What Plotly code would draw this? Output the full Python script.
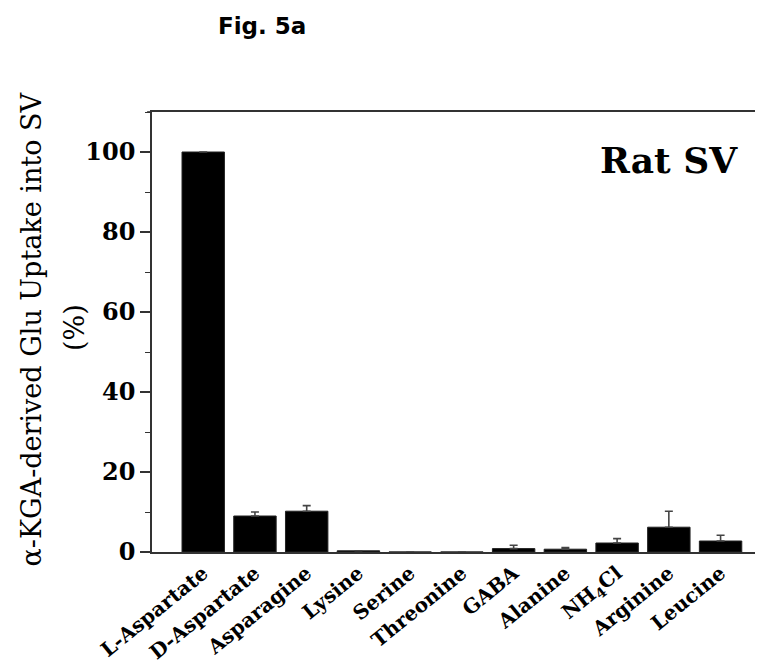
import plotly.graph_objects as go

categories = ["L-Aspartate", "D-Aspartate", "Asparagine", "Lysine", "Serine", "Threonine",
              "GABA", "Alanine", "NH<sub>4</sub>Cl", "Arginine", "Leucine"]
values = [100, 9.0, 10.2, 0.3, 0, 0, 0.85, 0.7, 2.25, 6.2, 2.75]
errors = [0, 1.0, 1.4, 0, 0, 0, 0.85, 0.4, 1.1, 4.0, 1.45]
zeros = [0] * len(categories)
y_ticks = [0, 20, 40, 60, 80, 100]

SERIF = "DejaVu Serif"

fig = go.Figure()
fig.add_trace(go.Bar(
    x=list(range(len(categories))), y=values,
    width=0.82,
    marker=dict(color="black", line=dict(color="#222", width=1)),
    error_y=dict(type="data", symmetric=False, array=errors, arrayminus=zeros,
                 color="#444", thickness=1.6, width=4),
))
# invisible trace for right-side mirrored ticks
fig.add_trace(go.Scatter(x=[0], y=[0], yaxis="y2", mode="markers",
                         marker=dict(opacity=0), showlegend=False, hoverinfo="skip"))

fig.update_layout(
    width=755, height=659,
    margin=dict(l=144, r=0, t=104, b=115),
    paper_bgcolor="white", plot_bgcolor="white",
    showlegend=False,
    xaxis=dict(
        range=[-0.99, 10.82], automargin=False,
        tickmode="array", tickvals=list(range(len(categories))), ticktext=categories,
        tickangle=-39,
        tickfont=dict(family=SERIF, size=20, color="black", weight="bold"),
        showline=True, linecolor="#333", linewidth=1.6, mirror=True,
        ticks="", showgrid=False, zeroline=False,
    ),
    yaxis=dict(
        range=[0, 110], automargin=False,
        tickmode="array", tickvals=y_ticks,
        tickfont=dict(family=SERIF, size=24, color="black", weight="bold"),
        showline=True, linecolor="#333", linewidth=1.6,
        ticks="outside", ticklen=10, tickwidth=1.6, tickcolor="#333",
        minor=dict(dtick=10, ticks="outside", ticklen=5, tickwidth=1.4, tickcolor="#333"),
        showgrid=False, zeroline=False,
    ),
    yaxis2=dict(
        range=[0, 110], overlaying="y", side="right", automargin=False,
        tickmode="array", tickvals=y_ticks[1:],
        ticks="inside", ticklen=3, tickwidth=1.2, tickcolor="#555",
        showticklabels=False, showline=False, showgrid=False, zeroline=False,
    ),
    annotations=[
        dict(text="Rat SV", xref="paper", yref="paper", x=0.962, y=0.89,
             xanchor="right", yanchor="middle", showarrow=False,
             font=dict(family=SERIF, size=36, color="black", weight="bold")),
        dict(text="Fig. 5a", xref="paper", yref="paper", x=0.105, y=1.195,
             xanchor="left", yanchor="middle", showarrow=False,
             font=dict(family="DejaVu Sans", size=23, color="black", weight="bold")),
        dict(text="α-KGA-derived Glu Uptake into SV", xref="paper", yref="paper",
             x=-0.197, y=0.505, xanchor="center", yanchor="middle", textangle=-90,
             showarrow=False, font=dict(family=SERIF, size=27, color="black")),
        dict(text="(%)", xref="paper", yref="paper",
             x=-0.127, y=0.51, xanchor="center", yanchor="middle", textangle=-90,
             showarrow=False, font=dict(family=SERIF, size=27, color="black")),
    ],
    shapes=[
        dict(type="line", xref="paper", yref="paper", x0=-0.018, x1=0, y0=0, y1=0,
             line=dict(color="#333", width=1.6)),
        dict(type="line", xref="paper", yref="paper", x0=-0.008, x1=0, y0=1, y1=1,
             line=dict(color="#333", width=1.6)),
    ],
)

fig.write_html("out.html")
